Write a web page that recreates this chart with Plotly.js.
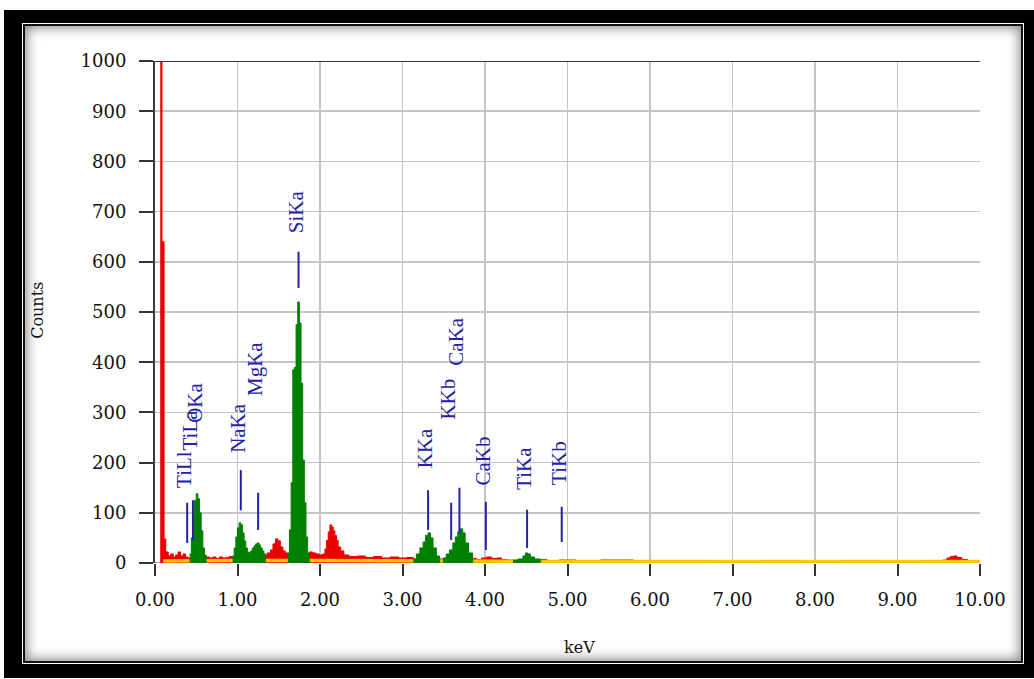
<!DOCTYPE html>
<html>
<head>
<meta charset="utf-8">
<script src="https://cdn.plot.ly/plotly-3.0.1.min.js"></script>
<style>
  html, body { margin: 0; padding: 0; background: #fff; }
  body { width: 1034px; height: 679px; position: relative; overflow: hidden; }
  #frame {
    position: absolute; left: 4px; top: 10px; width: 1030px; height: 668px;
    box-sizing: border-box; border-style: solid; border-color: #000;
    border-width: 13px 10px 14px 18px; background: #fff;
    box-shadow: inset 0 0 0 1px #fff, inset 0 0 0 3px #111, inset 0 0 12px 5px #8a8a8a;
  }
  #chart { position: absolute; left: 0; top: 0; width: 1034px; height: 679px; }
</style>
</head>
<body>
<div id="frame"></div>
<div id="chart"></div>
<script>
// ---- spectrum data (keV, counts) ----
const redKeV = [0.00, 0.06, 0.07, 0.085, 0.11, 0.13, 0.16, 0.19, 0.22, 0.25,
  0.28, 0.31, 0.34, 0.37, 0.40, 0.62, 0.66, 0.70, 0.74, 0.78,
  0.82, 0.86, 0.90, 0.94, 1.32, 1.36, 1.40, 1.43, 1.46, 1.49,
  1.52, 1.55, 1.58, 1.61, 1.87, 1.91, 1.95, 1.99, 2.03, 2.06,
  2.08, 2.10, 2.12, 2.14, 2.16, 2.18, 2.20, 2.22, 2.25, 2.29,
  2.35, 2.45, 2.55, 2.65, 2.75, 2.85, 2.95, 3.05, 3.13, 3.45,
  3.49, 3.85, 3.90, 3.96, 4.02, 4.08, 4.14, 4.20, 4.28, 4.34,
  4.67, 4.75, 4.90, 5.10, 5.40, 5.80, 6.30, 6.80, 7.30, 7.80,
  8.30, 8.80, 9.30, 9.55, 9.60, 9.64, 9.68, 9.72, 9.78, 9.85,
  10.00];
const redCounts = [0, 0, 1200, 640, 48, 22, 14, 18, 12, 16,
  22, 14, 18, 12, 10, 12, 10, 12, 9, 12,
  10, 11, 13, 10, 16, 20, 26, 38, 48, 44,
  32, 24, 20, 18, 22, 20, 18, 16, 18, 28,
  45, 62, 76, 72, 64, 55, 45, 32, 24, 16,
  13, 14, 11, 13, 10, 12, 10, 11, 8, 8,
  8, 9, 7, 10, 12, 9, 10, 7, 6, 5,
  7, 5, 6, 5, 6, 5, 5, 4, 5, 4,
  5, 4, 5, 6, 10, 13, 14, 11, 7, 5,
  4];

const oKeV = [0.42, 0.44, 0.46, 0.48, 0.50, 0.52, 0.54, 0.56, 0.58, 0.60, 0.62];
const oCounts = [18, 50, 95, 125, 138, 128, 100, 64, 30, 16, 0];
const naKeV = [0.94, 0.96, 0.98, 1.00, 1.02, 1.04, 1.06, 1.08, 1.10, 1.12, 1.14];
const naCounts = [14, 30, 52, 70, 80, 76, 60, 44, 30, 22, 0];
const mgKeV = [1.14, 1.16, 1.18, 1.20, 1.22, 1.24, 1.26, 1.28, 1.30, 1.32, 1.34];
const mgCounts = [20, 24, 30, 34, 38, 40, 36, 30, 24, 18, 0];
const siKeV = [1.61, 1.63, 1.65, 1.67, 1.69, 1.71, 1.73, 1.75, 1.77, 1.79, 1.81, 1.83, 1.85, 1.87];
const siCounts = [20, 66, 160, 385, 390, 475, 520, 478, 358, 205, 120, 52, 20, 0];
const kKeV = [3.13, 3.17, 3.21, 3.25, 3.28, 3.31, 3.34, 3.37, 3.41, 3.45];
const kCounts = [8, 18, 30, 42, 55, 60, 50, 30, 14, 0];
const caKeV = [3.49, 3.53, 3.57, 3.61, 3.64, 3.67, 3.70, 3.73, 3.76, 3.80, 3.85];
const caCounts = [10, 18, 26, 40, 52, 62, 68, 60, 40, 20, 0];
const tiKeV = [4.34, 4.40, 4.46, 4.49, 4.52, 4.55, 4.60, 4.67];
const tiCounts = [6, 8, 14, 20, 18, 12, 8, 0];

const bgKeV = [0.10, 0.50, 1.00, 2.00, 3.00, 4.00, 5.00, 7.00, 10.00];
const bgCounts = [4, 5, 5, 5, 4, 4, 3, 3, 3];

// ---- peak identification labels ----
const peakNames = ["TiLl", "TiLa", "OKa", "NaKa", "MgKa", "SiKa", "KKa", "KKb", "CaKa", "CaKb", "TiKa", "TiKb"];
const peakKeV   = [0.39, 0.46, 0.52, 1.04, 1.25, 1.74, 3.31, 3.59, 3.69, 4.01, 4.51, 4.93];
const labelBase = [145, 221, 275, 215, 329, 653, 185, 281, 390, 151, 141, 151];
const markLow   = [40, 46, null, 105, 66, 548, 66, 46, 60, 26, 30, 42];
const markHigh  = [120, 125, null, 185, 140, 620, 145, 120, 150, 122, 106, 112];

const RED = 'rgb(235,0,0)', GREEN = 'rgb(0,128,0)', BLUE = 'rgb(34,34,166)';

function fillTrace(x, y, color) {
  return { x: x, y: y, type: 'scatter', mode: 'lines', line: { shape: 'hv', color: color, width: 1 },
           fill: 'tozeroy', fillcolor: color, hoverinfo: 'skip', showlegend: false };
}

const traces = [
  fillTrace(redKeV, redCounts, RED),
  { x: bgKeV, y: bgCounts, type: 'scatter', mode: 'lines', line: { color: 'rgba(255,214,0,0.9)', width: 3.5 },
    hoverinfo: 'skip', showlegend: false },
  fillTrace(oKeV, oCounts, GREEN),
  fillTrace(naKeV, naCounts, GREEN),
  fillTrace(mgKeV, mgCounts, GREEN),
  fillTrace(siKeV, siCounts, GREEN),
  fillTrace(kKeV, kCounts, GREEN),
  fillTrace(caKeV, caCounts, GREEN),
  fillTrace(tiKeV, tiCounts, GREEN)
];

const shapes = [
  { type: 'line', xref: 'paper', yref: 'y', x0: 0, x1: 1, y0: 1000, y1: 1000, line: { color: '#3a3a3a', width: 2 } }
];
const annotations = [];
peakNames.forEach(function (name, i) {
  if (markLow[i] !== null) {
    shapes.push({ type: 'line', xref: 'x', yref: 'y', x0: peakKeV[i], x1: peakKeV[i],
                  y0: markLow[i], y1: markHigh[i], line: { color: BLUE, width: 2 } });
  }
  annotations.push({ x: peakKeV[i], y: labelBase[i], xref: 'x', yref: 'y', text: name, showarrow: false,
    textangle: -90, xanchor: 'center', yanchor: 'bottom', xshift: -3,
    font: { family: 'Liberation Serif, Times New Roman, serif', size: 21, color: BLUE } });
});
annotations.push({ x: -0.142, y: 0.504, xref: 'paper', yref: 'paper', text: 'Counts', showarrow: false,
  textangle: -90, xanchor: 'center', yanchor: 'middle',
  font: { family: 'DejaVu Serif, serif', size: 16, color: '#111' } });
annotations.push({ x: 0.515, y: -0.169, xref: 'paper', yref: 'paper', text: 'keV', showarrow: false,
  xanchor: 'center', yanchor: 'middle',
  font: { family: 'DejaVu Serif, serif', size: 16, color: '#111' } });

const layout = {
  width: 1034, height: 679,
  margin: { l: 155, r: 54, t: 61, b: 116 },
  paper_bgcolor: 'rgba(0,0,0,0)', plot_bgcolor: '#fff',
  showlegend: false,
  xaxis: { range: [0, 10], dtick: 1, tick0: 0, tickformat: '.2f', showgrid: true, gridcolor: '#c4c4c4', gridwidth: 1.5,
           zeroline: false, showline: false, ticks: 'outside', ticklen: 12, tickwidth: 2, tickcolor: '#333',
           ticklabelstandoff: 8, tickfont: { family: 'DejaVu Serif, serif', size: 18, color: '#111' }, fixedrange: true },
  yaxis: { range: [0, 1000], dtick: 100, tick0: 0, showgrid: true, gridcolor: '#c4c4c4', gridwidth: 1.5,
           zeroline: false, showline: true, linecolor: '#3a3a3a', linewidth: 2, ticks: 'outside', ticklen: 14,
           tickwidth: 2, tickcolor: '#333', ticklabelstandoff: 9,
           tickfont: { family: 'DejaVu Serif, serif', size: 18, color: '#111' }, fixedrange: true },
  shapes: shapes,
  annotations: annotations
};

Plotly.newPlot('chart', traces, layout, { staticPlot: true, displayModeBar: false });
</script>
</body>
</html>
